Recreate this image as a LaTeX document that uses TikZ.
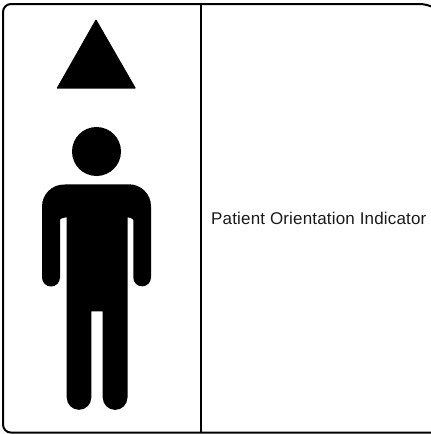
\documentclass[tikz,border=0pt]{standalone}
\usepackage{fontspec}
\setmainfont[LetterSpace=1]{Liberation Sans}
\usepackage{xcolor}
\definecolor{labelgray}{HTML}{1A1A1A}
\tikzset{
  px/.style={x=1pt,y=-1pt},
  frameline/.style={line width=2pt,black},
  figure/.style={fill=black,draw=none},
  caption/.style={font=\fontsize{17pt}{20pt}\selectfont,text=labelgray,inner sep=0pt,anchor=base west},
}
\begin{document}
\begin{tikzpicture}[px]
\useasboundingbox (0,0) rectangle (431,434);
\clip (0,0) rectangle (431,434);
\draw[frameline,rounded corners=8pt](430.5,5.5)--(428,4)--(3,4)--(3,432.6)--(433,432.6);
\draw[frameline](201,4)--(201,432.6);
% arrow
\fill[figure,rounded corners=.7pt](96,19)--(136,88.5)--(56.5,88.5)--cycle;
% head
\fill[figure](96.5,151.5)circle(24.5);
% body
\fill[figure](42,206.5)arc[start angle=180,end angle=270,radius=22]--(129,184.3)
  arc[start angle=270,end angle=360,radius=22]--(151,277.5)
  arc[start angle=0,end angle=180,radius=8.85]--(133.3,220)
  .. controls (133.3,218.5) and (130,217.5) .. (127.5,217.2)
  --(127.5,397.5)arc[start angle=0,end angle=180,radius=12.4]--(102.7,311.3)--(91.3,311.3)
  --(91.3,397.5)arc[start angle=0,end angle=180,radius=12.3]--(66.7,217.2)
  .. controls (64,217.5) and (60,218.5) .. (60,220)
  --(60,277.5)arc[start angle=0,end angle=180,radius=9]--cycle;
\node[caption](lbl)at(211,224.4){Patient Orientation Indicator};
\end{tikzpicture}
\end{document}
